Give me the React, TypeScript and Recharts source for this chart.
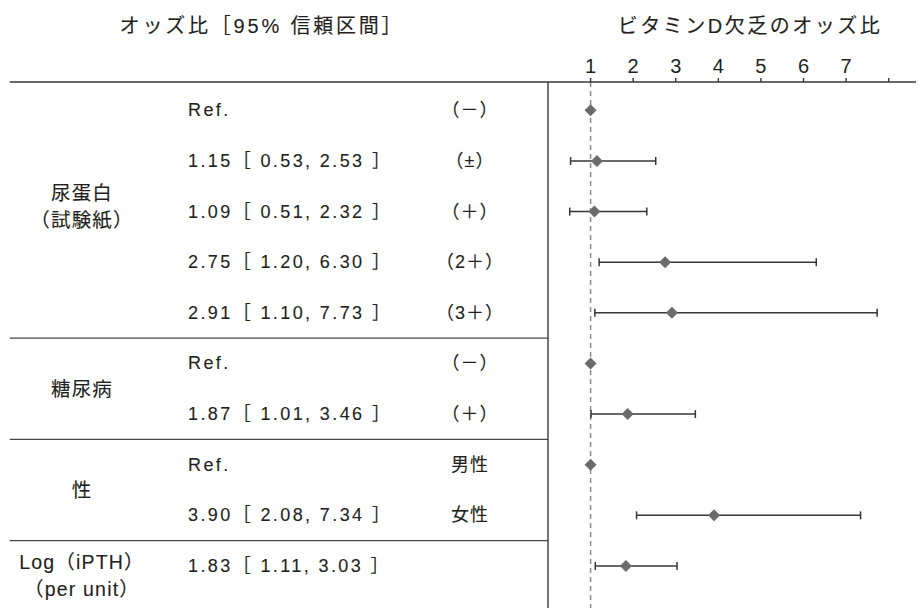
import React from 'react';
import { ScatterChart, Scatter, XAxis, YAxis, ErrorBar, ReferenceLine } from 'recharts';

const FONT = "'Liberation Sans', 'Noto Sans CJK JP', sans-serif";
const INK = '#231f20';
const LINE = '#3b3536';

// ---- data ----
const rowIds = [1, 2, 3, 4, 5, 6, 7, 8, 9, 10];
const oddsRatios = [1, 1.15, 1.09, 2.75, 2.91, 1, 1.87, 1, 3.9, 1.83];
const ciLower: (number | null)[] = [null, 0.53, 0.51, 1.2, 1.1, null, 1.01, null, 2.08, 1.11];
const ciUpper: (number | null)[] = [null, 2.53, 2.32, 6.3, 7.73, null, 3.46, null, 7.34, 3.03];
const levelLabels = ['（－）', '（±）', '（＋）', '（2＋）', '（3＋）', '（－）', '（＋）', '男性', '女性', ''];
const groupNames = [['尿蛋白', '（試験紙）'], ['糖尿病'], ['性'], ['Log（iPTH）', '（per unit）']];
const groupFirstRow = [1, 6, 8, 10];
const groupLastRow = [5, 7, 9, 10];
const xTicks = [1, 2, 3, 4, 5, 6, 7, 8];
const xTickLabels = ['1', '2', '3', '4', '5', '6', '7', ''];
const leftTitle = 'オッズ比［95% 信頼区間］';
const rightTitle = 'ビタミンD欠乏のオッズ比';

const groupCenters = groupFirstRow.map((a, i) => (a + groupLastRow[i]) / 2);
const groupBreaks = groupLastRow.slice(0, -1).map((r) => r + 0.5);

const estimateData = rowIds
  .map((row, i) => ({ row, or: oddsRatios[i], lo: ciLower[i], hi: ciUpper[i] }))
  .filter((d) => d.lo !== null)
  .map((d) => ({ row: d.row, or: d.or, err: [d.or - (d.lo as number), (d.hi as number) - d.or] }));
const refData = rowIds
  .map((row, i) => ({ row, or: oddsRatios[i], lo: ciLower[i] }))
  .filter((d) => d.lo === null)
  .map((d) => ({ row: d.row, or: d.or }));

const Y_DOMAIN: [number, number] = [0.44, 10.83];
const X_DOMAIN: [number, number] = [0, 8.83];
const LEFT_EDGE = -12.64;

const Diamond = (props: any) => {
  const { cx, cy } = props;
  if (cx == null || cy == null) return null;
  const r = 6;
  return (
    <polygon
      points={`${cx},${cy - r} ${cx + r},${cy} ${cx},${cy + r} ${cx - r},${cy}`}
      fill="#6b6b6b"
    />
  );
};

const thick = { stroke: INK, strokeWidth: 0.12 };
const valueStyle = { fontFamily: FONT, fontSize: 18, fill: INK, letterSpacing: 2.4, ...thick };
const levelStyle = { fontFamily: FONT, fontSize: 18, fill: INK, letterSpacing: 1, ...thick };
const groupStyle = { fontFamily: FONT, fontSize: 19.5, fill: INK, letterSpacing: 1.2, ...thick };

const RowTick = (props: any) => {
  const { y, payload } = props;
  const i = rowIds.indexOf(payload.value);
  if (i < 0) return null;
  const lo = ciLower[i];
  const hi = ciUpper[i];
  const txt =
    lo === null ? 'Ref.' : `${oddsRatios[i].toFixed(2)}［ ${lo.toFixed(2)}, ${(hi as number).toFixed(2)} ］`;
  return (
    <g>
      <text x={180} y={y} dominantBaseline="central" style={valueStyle}>
        {txt}
      </text>
      <text x={462} y={y} dominantBaseline="central" textAnchor="middle" style={levelStyle}>
        {levelLabels[i]}
      </text>
    </g>
  );
};

const GroupTick = (props: any) => {
  const { y, payload } = props;
  const gi = groupCenters.indexOf(payload.value);
  if (gi < 0) return null;
  const lines = groupNames[gi];
  const shift = [-5, 0, 0, 10][gi];
  const lh = 27;
  return (
    <g>
      {lines.map((ln, k) => (
        <text
          key={k}
          x={74}
          y={y + shift + (k - (lines.length - 1) / 2) * lh}
          dominantBaseline="central"
          textAnchor="middle"
          style={groupStyle}
        >
          {ln}
        </text>
      ))}
    </g>
  );
};

const headerStyle: React.CSSProperties = {
  position: 'absolute',
  top: 16,
  transform: 'translate(-50%, -50%)',
  fontSize: 20,
  color: INK,
  whiteSpace: 'nowrap',
  WebkitTextStroke: '0.12px #231f20',
};

export default function App() {
  return (
    <div style={{ position: 'relative', width: 916, height: 600, fontFamily: FONT }}>
      <div style={{ ...headerStyle, left: 254, letterSpacing: 2.8 }}>{leftTitle}</div>
      <div style={{ ...headerStyle, left: 742, letterSpacing: 2.5 }}>{rightTitle}</div>
      <ScatterChart width={916} height={600} margin={{ top: 44, right: 0, bottom: 0, left: 0 }}>
        <XAxis
          xAxisId="x"
          type="number"
          dataKey="or"
          orientation="top"
          domain={X_DOMAIN}
          allowDataOverflow
          ticks={xTicks}
          interval={0}
          tickFormatter={(v: number) => xTickLabels[xTicks.indexOf(v)] ?? ''}
          height={30}
          tickSize={4}
          tickMargin={5}
          axisLine={{ stroke: LINE, strokeWidth: 1.4 }}
          tickLine={{ stroke: LINE, strokeWidth: 1.4 }}
          tick={{ fontFamily: FONT, fontSize: 20, fill: INK }}
        />
        <YAxis
          yAxisId="rows"
          type="number"
          dataKey="row"
          domain={Y_DOMAIN}
          allowDataOverflow
          reversed
          ticks={rowIds}
          interval={0}
          width={500}
          axisLine={false}
          tickLine={false}
          tick={<RowTick />}
        />
        <YAxis
          yAxisId="groups"
          type="number"
          domain={Y_DOMAIN}
          allowDataOverflow
          reversed
          ticks={groupCenters}
          interval={0}
          width={40}
          axisLine={false}
          tickLine={false}
          tick={<GroupTick />}
        />
        <ReferenceLine
          xAxisId="x"
          yAxisId="rows"
          ifOverflow="visible"
          segment={[
            { x: LEFT_EDGE, y: Y_DOMAIN[0] },
            { x: 0, y: Y_DOMAIN[0] },
          ]}
          stroke={LINE}
          strokeWidth={1.4}
        />
        {groupBreaks.map((b) => (
          <ReferenceLine
            key={b}
            xAxisId="x"
            yAxisId="rows"
            ifOverflow="visible"
            segment={[
              { x: LEFT_EDGE, y: b },
              { x: 0, y: b },
            ]}
            stroke="#4a4243"
            strokeWidth={1.2}
          />
        ))}
        <ReferenceLine xAxisId="x" yAxisId="rows" x={0} stroke={LINE} strokeWidth={1.4} />
        <ReferenceLine
          xAxisId="x"
          yAxisId="rows"
          x={1}
          stroke="#8a8a8a"
          strokeWidth={1.5}
          strokeDasharray="5 4"
        />
        <Scatter
          xAxisId="x"
          yAxisId="rows"
          data={estimateData}
          dataKey="or"
          shape={<Diamond />}
          isAnimationActive={false}
        >
          <ErrorBar dataKey="err" direction="x" width={4} stroke="#3a3435" strokeWidth={1.5} isAnimationActive={false} />
        </Scatter>
        <Scatter
          xAxisId="x"
          yAxisId="rows"
          data={refData}
          dataKey="or"
          shape={<Diamond />}
          isAnimationActive={false}
        />
      </ScatterChart>
    </div>
  );
}
